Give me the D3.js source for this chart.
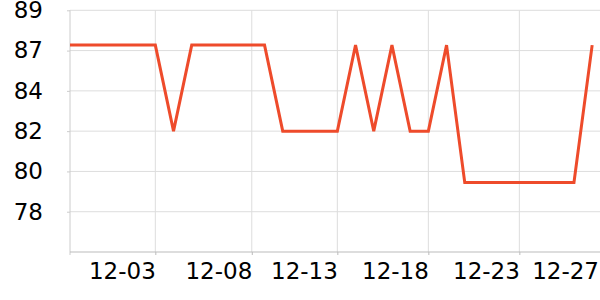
<!DOCTYPE html>
<html>
<head>
<meta charset="utf-8">
<script src="https://cdn.jsdelivr.net/npm/d3@7"></script>
<style>
  html, body { margin: 0; padding: 0; background: #fff; }
  svg { display: block; font-family: "DejaVu Sans", sans-serif; }
</style>
</head>
<body>
<svg id="chart" width="600" height="300"></svg>
<script>
// ---- data ----
const dates = [
  "2023-11-28","2023-11-29","2023-11-30","2023-12-01","2023-12-02","2023-12-03",
  "2023-12-04","2023-12-05","2023-12-06","2023-12-07","2023-12-08","2023-12-09",
  "2023-12-10","2023-12-11","2023-12-12","2023-12-13","2023-12-14","2023-12-15",
  "2023-12-16","2023-12-17","2023-12-18","2023-12-19","2023-12-20","2023-12-21",
  "2023-12-22","2023-12-23","2023-12-24","2023-12-25","2023-12-26","2023-12-27"
];
const values = [
  86.9, 86.9, 86.9, 86.9, 86.9, 86.9,
  82.2, 86.9, 86.9, 86.9, 86.9, 86.9,
  82.2, 82.2, 82.2, 82.2, 86.9, 82.2,
  86.9, 82.2, 82.2, 86.9, 79.4, 79.4,
  79.4, 79.4, 79.4, 79.4, 79.4, 86.9
];
const xDomain = ["2023-11-28T07:30", "2023-12-27T10:20"];
const xTickDates = ["2023-12-03T00:00", "2023-12-08T07:12", "2023-12-13T00:00", "2023-12-18T00:00", "2023-12-23T00:00"];
const xTickLabels = ["12-03", "12-08", "12-13", "12-18", "12-23"];
const xEndLabel = "12-27";
const yDomain = [75.6, 88.8];
const yTicks = [77.8, 80.0, 82.2, 84.4, 86.6, 88.8];

(function () {
// ---- layout ----
const svg = d3.select("#chart");
const mLeft = 70, mRight = 600, mTop = 10.3, mBottom = 252;
const parse = d3.isoParse;

const x = d3.scaleTime().domain(xDomain.map(parse)).range([mLeft, mRight]);
const y = d3.scaleLinear().domain(yDomain).range([mBottom, mTop]);

const grid = "#dddddd";

// horizontal grid
svg.append("g").selectAll("line").data(yTicks).join("line")
  .attr("x1", mLeft).attr("x2", mRight)
  .attr("y1", d => y(d)).attr("y2", d => y(d))
  .attr("stroke", grid).attr("stroke-width", 1);

// vertical grid
svg.append("g").selectAll("line").data(xTickDates).join("line")
  .attr("x1", d => x(parse(d))).attr("x2", d => x(parse(d)))
  .attr("y1", mTop).attr("y2", mBottom)
  .attr("stroke", grid).attr("stroke-width", 1);

// y axis
const yAxis = d3.axisLeft(y).tickValues(yTicks).tickFormat(d3.format(".0f")).tickSize(3).tickPadding(24);
const gy = svg.append("g").attr("transform", `translate(${mLeft},0)`).call(yAxis);
gy.select(".domain").remove();
gy.selectAll(".tick line").attr("stroke", "#cccccc");
gy.selectAll(".tick text").attr("font-size", 23).attr("fill", "#000").attr("font-family", "DejaVu Sans");
svg.append("line").attr("x1", mLeft).attr("x2", mLeft).attr("y1", mTop).attr("y2", mBottom + 3)
  .attr("stroke", "#cccccc");

// x axis
const xAxis = d3.axisBottom(x).tickValues(xTickDates.map(parse))
  .tickFormat((d, i) => xTickLabels[i]).tickSize(3).tickPadding(8);
const gx = svg.append("g").attr("transform", `translate(0,${mBottom})`).call(xAxis);
gx.select(".domain").remove();
gx.selectAll(".tick line").attr("stroke", "#bbbbbb");
gx.selectAll(".tick text").attr("font-size", 23).attr("fill", "#000")
  .attr("font-family", "DejaVu Sans").attr("text-anchor", "end").attr("dy", "0.71em");
svg.append("line").attr("x1", mLeft).attr("x2", mRight).attr("y1", mBottom).attr("y2", mBottom)
  .attr("stroke", "#bbbbbb");
// end label at the axis end
svg.append("text").attr("x", x.range()[1] - 1).attr("y", mBottom + 11).attr("dy", "0.71em")
  .attr("text-anchor", "end").attr("font-size", 23).attr("fill", "#000").text(xEndLabel);

// clip
svg.append("clipPath").attr("id", "clip").append("rect")
  .attr("x", mLeft).attr("y", 0).attr("width", mRight - mLeft).attr("height", 300);

// line
const data = dates.map((d, i) => ({ t: parse(d + "T00:00"), v: values[i] }));
const line = d3.line().x(d => x(d.t)).y(d => y(d.v));
svg.append("path").datum(data)
  .attr("clip-path", "url(#clip)")
  .attr("fill", "none").attr("stroke", "#ee4b2b").attr("stroke-width", 3)
  .attr("stroke-linejoin", "miter").attr("d", line);
})();
</script>
</body>
</html>
